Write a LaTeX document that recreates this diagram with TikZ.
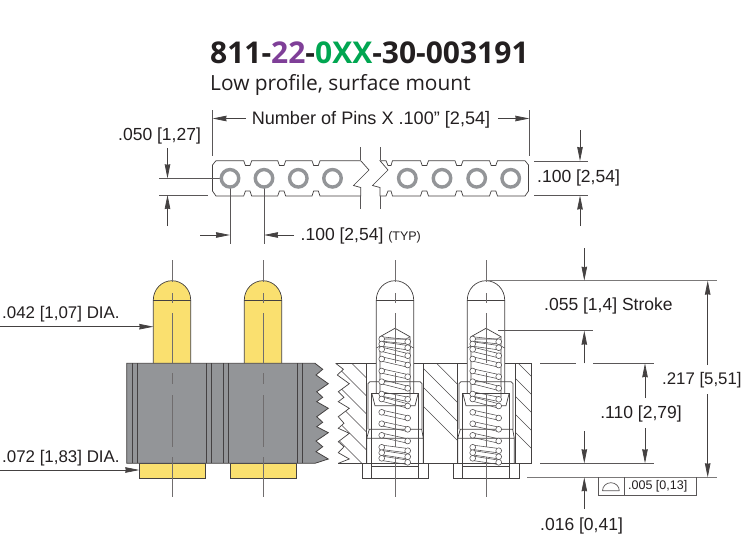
\documentclass[tikz,border=0pt]{standalone}
\usepackage{fontspec}
\setmainfont{Liberation Sans}
\newfontfamily\titlefont{Open Sans}
\usetikzlibrary{arrows.meta}
\definecolor{pinyellow}{HTML}{FAE06F}
\definecolor{bodygray}{HTML}{939598}
\definecolor{inkc}{HTML}{231F20}
\definecolor{purp}{HTML}{7F3F98}
\definecolor{grn}{HTML}{00A651}
\tikzset{
 dimtext/.style={font=\fontsize{17.5}{20}\selectfont,text=inkc,inner sep=0pt,yshift=-1.2pt},
 dimline/.style={draw=inkc!85,line width=0.7pt},
 extline/.style={draw=inkc!75,line width=0.7pt},
 datum/.style={draw=inkc!60,line width=1.1pt},
 arrowto/.style={dimline,-{Stealth[length=14pt,width=5.5pt,inset=0.5pt]}},
 outline/.style={draw=inkc!85,line width=0.7pt},
 centerl/.style={draw=inkc!65,line width=0.8pt},
 thinl/.style={draw=inkc!80,line width=0.55pt},
 ringc/.style={draw=bodygray,line width=3.4pt,fill=white}
}
\newcommand{\centrelines}{%
 \foreach \a/\b in {260/282,293/303,313/363,373/384,395/447,457/478,477/497}
   \draw[centerl] (0,\a)--(0,\b);
}
\begin{document}
\begin{tikzpicture}[x=1pt,y=-1pt]
\useasboundingbox (0,0) rectangle (742,535);
\fill[white] (0,0) rectangle (742,535);
% titles
\node[anchor=west,inner sep=0pt,text=inkc,font=\titlefont\bfseries\fontsize{30}{34}\selectfont] (title) at (210,52.5) {811-\textcolor{purp}{22}-\textcolor{grn}{0XX}-30-003191};
\node[anchor=west,inner sep=0pt,text=inkc,font=\titlefont\fontsize{20.9}{24}\selectfont] (sub) at (210,85) {Low profile, surface mount};
% top strip
\draw[outline,fill=white]
 (360.7,160.7)--(337,160.7)
 \foreach \n in {316,281.7,247.7} {--(\n+4,160.7)--(\n+2.3,165.5)--(\n-2.3,165.5)--(\n-4,160.7)}
 --(216,160.7)--(212.5,165)--(212.5,191)--(216,196)
 \foreach \n in {247.7,281.7,316} {--(\n-4,196)--(\n-2.3,191)--(\n+2.3,191)--(\n+4,196)}
 --(360.7,196)--(360.7,187.5)--(353.5,185.5)--(369,170)--(360.7,160.7);
\draw[outline,fill=white]
 (380,160.7)--(388,170)--(372.5,185.5)--(380,187.5)--(380,196)--(386,196)--(388,191)--(391,191)--(392.5,196)
 \foreach \n in {424.5,459,493.5} {--(\n-4,196)--(\n-2.3,191)--(\n+2.3,191)--(\n+4,196)}
 --(525,196)--(528.5,191)--(528.5,165)--(525,160.7)
 \foreach \n in {493.5,459,424.5} {--(\n+4,160.7)--(\n+2.3,165.5)--(\n-2.3,165.5)--(\n-4,160.7)}
 --(392.5,160.7)--(391,165.5)--(388,165.5)--(386,160.7)--cycle;
\draw[extline] (360.7,147)--(360.7,160) (360.7,196)--(360.7,209) (380,147)--(380,160) (380,196)--(380,209);
\foreach \cx/\nm in {298.3/rc,332.5/rd,407.3/re,442/rf,476.7/rg,510.7/rh}
  \node[circle,ringc,minimum size=17.5pt,inner sep=0pt] (\nm) at (\cx,178.3) {};
\coordinate (ra) at (230,178.3); \coordinate (rb) at (264,178.3);
% top dimensions
\node[dimtext,anchor=center,font=\fontsize{18.1}{20}\selectfont] (npins) at (371,118.5) {Number of Pins X .100” [2,54]};
\coordinate (elt) at (212.5,118.5); \coordinate (ert) at (529.3,118.5);
\draw[extline] (212.5,110)--(212.5,155.5) (529.3,110)--(529.3,156);
\draw[arrowto] ([xshift=-6pt]npins.west |- elt)--(elt);
\draw[arrowto] ([xshift=8pt]npins.east |- ert)--(ert);
\node[dimtext,anchor=west] (d050) at (118,135) {.050 [1,27]};
\draw[extline] (159,178.3)--(ra) (159,195)--(208,195);
\draw[arrowto] (167.5,148)--(167.5,178.3);
\draw[arrowto] (167.5,226)--(167.5,195);
\draw[extline] (ra)--(230,244) (rb)--(264,244);
\node[ringc,circle,minimum size=17.5pt,inner sep=0pt] (rac) at (ra) {};
\node[ringc,circle,minimum size=17.5pt,inner sep=0pt] (rbc) at (rb) {};
\draw[arrowto] (200,235)--(230,235);
\node[dimtext,anchor=west] (d100) at (300.5,235) {.100 [2,54] {\fontsize{12.5}{14}\selectfont(TYP)}};
\draw[arrowto] (294,235)--(264,235);
\node[dimtext,anchor=west] (d100b) at (537,177) {.100 [2,54]};
\draw[extline] (534,161)--(588,161) (534,195.5)--(588,195.5);
\draw[arrowto] (580,130)--(580,161);
\draw[arrowto] (580,226)--(580,195.5);
% left elevation: pins
\foreach \cx in {172,263} {
 \begin{scope}[xshift=\cx pt]
 \fill[pinyellow] (-18.7,363.3)--(-18.7,300) arc[start angle=180,end angle=360,x radius=18.7,y radius=19.3]--(18.7,363.3)--cycle;
 \draw[outline] (-18.7,363.3)--(-18.7,300) arc[start angle=180,end angle=360,x radius=18.7,y radius=19.3]--(18.7,363.3);
 \draw[outline] (-18.7,300)--(18.7,300);
 \draw[outline,fill=pinyellow] (-32.7,463.3) rectangle (33,478);
 \end{scope}
}
% gray body
\draw[draw=inkc!85,line width=0.8pt,fill=bodygray]
 (126.7,363.3)--(315,363.3)--(322.7,369.3)--(316,375)--(328.3,383.7)--(316.7,391.7)--(322.7,397.3)--(316.7,401.7)--(328.3,408.3)--(316.7,416.7)--(322.7,422.3)--(316.7,426.7)--(328.3,432.7)--(316,441)--(322.7,446.7)--(316,451.7)--(328.3,459)--(315,463.3)--(126.7,463.3)--cycle;
\foreach \x in {132.3,137.3,206.7,211.7,223.3,228.3,297.7,302.7}
 \draw[inkc!85,line width=0.8pt] (\x,363.3)--(\x,463.3);
\foreach \cx in {172,263} {\begin{scope}[xshift=\cx pt]\centrelines\end{scope}}
\node[dimtext,anchor=west,font=\fontsize{16.9}{20}\selectfont] (d042) at (2,313) {.042 [1,07] DIA.};
\coordinate (c042) at (153.3,326.7);
\draw[arrowto] (0,326.7)--(c042);
\node[dimtext,anchor=west,font=\fontsize{16.9}{20}\selectfont] (d072) at (2,457) {.072 [1,83] DIA.};
\coordinate (c072) at (139.3,470);
\draw[arrowto] (0,470)--(c072);
% section: hatching
\begin{scope}
 \clip (335.7,363.3)--(343.4,369.3)--(337.3,375)--(349.3,383.7)--(338.3,391.7)--(344,397.3)--(338.3,401.7)--(349.3,408.3)--(338.3,416.7)--(344,423.3)--(338.3,428.3)--(349.3,433.3)--(338.3,441.7)--(344,446.7)--(338.3,452.7)--(349.3,459)--(338.3,463.3)--(366.7,463.3)--(366.7,363.3)--cycle;
 \foreach \k in {11.6,29.6,47.6,65.6,83.6,101.6}
  \draw[thinl] (300,300+\k)--(400,400+\k);
\end{scope}
\begin{scope}
 \clip (423.3,363.3) rectangle (457.7,463.3);
 \foreach \k in {-73.3,-55,-36,-17}
  \draw[thinl] (400,400+\k)--(480,480+\k);
\end{scope}
\begin{scope}
 \clip (515,363.3) rectangle (531.7,463.3);
 \foreach \k in {-155,-137,-119,-101,-83}
  \draw[thinl] (500,500+\k)--(540,540+\k);
\end{scope}
\draw[outline] (335.7,363.3)--(343.4,369.3)--(337.3,375)--(349.3,383.7)--(338.3,391.7)--(344,397.3)--(338.3,401.7)--(349.3,408.3)--(338.3,416.7)--(344,423.3)--(338.3,428.3)--(349.3,433.3)--(338.3,441.7)--(344,446.7)--(338.3,452.7)--(349.3,459)--(338.3,463.3);
\draw[outline] (335.7,363.3)--(376.3,363.3) (414,363.3)--(467.3,363.3) (505,363.3)--(531.7,363.3)--(531.7,463.3)--(338.3,463.3);
\foreach \x in {366.7,423.3,457.7,515} \draw[outline] (\x,363.3)--(\x,463.3);
% section pins
\foreach \cx in {395,486} {
 \begin{scope}[xshift=\cx pt]
 % plunger
 \draw[outline] (-18.7,393.3)--(-18.7,300) arc[start angle=180,end angle=360,x radius=18.7,y radius=19.3]--(18.7,393.3);
 \draw[outline] (-18.7,300)--(18.7,300);
 \draw[outline] (-15,397)--(-15,336.7)--(0,328.3)--(15,336.7)--(15,397);
 \draw[thinl] (-15,336.7)--(-11,339)--(11,339)--(15,336.7) (-18.7,348)--(-15,346) (18.7,348)--(15,346);
 % sleeve
 \draw[outline] (-27,429.3)--(-27,383.7)--(-25,381.7)--(25,381.7)--(27,383.7)--(27,429.3);
 \draw[outline] (-23.3,478)--(-23.3,393.3) (23.3,393.3)--(23.3,478);
 \draw[inkc!85,line width=1.1pt] (-23,393.3)--(23,393.3);
 \draw[outline] (-23,394)--(-20,405.7)--(20,405.7)--(23,394);
 \draw[outline] (-28.3,463.3)--(-28.3,438.3)--(-25.7,429.3)--(26.7,429.3)--(28.3,438.3)--(28.3,463.3) (-28.3,438.3)--(28.3,438.3);
 \draw[outline] (-23.3,466.7)--(23.3,466.7);
 \draw[outline] (-32.7,463.3)--(-32.7,478)--(33.3,478)--(33.3,463.3);
 % spring
 \foreach \l/\r in {339/341.7,344/347.7,349.3/355.7,359/365,371/376.7,381.7/388.3,394/399.3,399/406,412.3/418,423.7/429.3,435.3/441,447.3/450.7,452.7/456.7,458.3/462.3}{
   \draw[thinl] (-13.3,\l-2.2)--(12.7,\r-2.2) (-13.3,\l+2.2)--(12.7,\r+2.2);
 }
 \foreach \l/\r in {339/341.7,344/347.7,349.3/355.7,359/365,371/376.7,381.7/388.3,394/399.3,399/406,412.3/418,423.7/429.3,435.3/441,447.3/450.7,452.7/456.7,458.3/462.3}{
   \draw[thinl,fill=white] (-13.3,\l) circle[radius=2.9];
   \draw[thinl,fill=white] (12.7,\r) circle[radius=2.9];
 }
 \centrelines
 \end{scope}
}
% right dimensions
\coordinate (tipt) at (486,280.7);
\coordinate (stroket) at (498,330.7);
\draw[datum] (tipt)--(716.7,280.7);
\draw[datum] (527,477.3)--(716.7,477.3);
\draw[extline] (stroket)--(592.7,330.7);
\draw[extline] (540,363.3)--(575.7,363.3) (593.3,363.3)--(654,363.3) (540,463.3)--(654,463.3);
\draw[arrowto] (584.3,248)--(584.3,280.7);
\node[dimtext,anchor=west] (dstroke) at (544,305) {.055 [1,4] Stroke};
\draw[arrowto] (584.3,363.3)--(584.3,330.7);
\draw[arrowto] (584.3,431)--(584.3,463.3);
\node[dimtext] (d110) at (641,412.7) {.110 [2,79]};
\draw[arrowto] (645,398)--(645,363.3);
\draw[arrowto] (645,428)--(645,463.3);
\node[dimtext,anchor=west,font=\fontsize{16.8}{20}\selectfont] (d217) at (662,379) {.217 [5,51]};
\draw[arrowto] (707.7,365)--(707.7,280.7);
\draw[arrowto] (707.7,394)--(707.7,477.3);
\draw[arrowto] (584.3,509)--(584.3,477.3);
\node[dimtext,anchor=west] (d016) at (540,525) {.016 [0,41]};
% profile tolerance box
\draw[extline] (598.3,477.3)--(598.3,495.3)--(696.7,495.3)--(696.7,477.3) (624,477.3)--(624,495.3);
\draw[extline] (602.3,490.7)--(619.3,490.7) (602.5,490.7) arc[start angle=180,end angle=360,x radius=8.4,y radius=8];
\node[anchor=west,inner sep=0pt,text=inkc,font=\fontsize{12.5}{14}\selectfont] (d005) at (628,486.3) {.005 [0,13]};
\end{tikzpicture}
\end{document}
